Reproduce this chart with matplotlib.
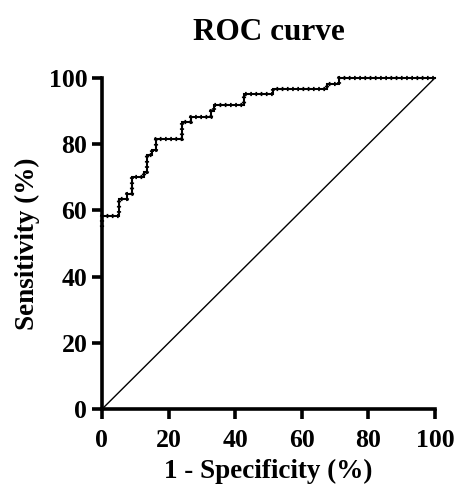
import numpy as np
import matplotlib
matplotlib.use("Agg")
import matplotlib.pyplot as plt

fpr = [0, 0, 5.1, 5.1, 7.6, 7.6, 8.9, 8.9, 12.7, 12.7, 13.4, 13.4, 14.9, 14.9,
       16.1, 16.1, 24.1, 24.1, 26.6, 26.6, 32.7, 32.7, 33.7, 33.7, 42.6, 42.6,
       51.4, 51.4, 67.7, 67.7, 71.3, 71.3, 100]
tpr = [55.0, 58.3, 58.3, 63.3, 63.3, 65.0, 65.0, 70.0, 70.0, 71.7, 71.7, 76.7,
       76.7, 78.3, 78.3, 81.7, 81.7, 86.7, 86.7, 88.3, 88.3, 90.0, 90.0, 91.7,
       91.7, 95.0, 95.0, 96.7, 96.7, 98.3, 98.3, 100, 100]
ticks = [0, 20, 40, 60, 80, 100]

plt.rcParams["font.family"] = ["Liberation Serif", "DejaVu Serif"]
plt.rcParams["font.weight"] = "bold"

fig = plt.figure(figsize=(4.55, 4.96), dpi=100)
ax = fig.add_axes([0.224, 0.175, 0.732, 0.668])

# reference line
ax.plot([0, 100], [0, 100], color="black", lw=1.0, zorder=2)
# curve + dotted point marks
ax.plot(fpr, tpr, color="black", lw=1.5, solid_joinstyle="miter",
        zorder=3, clip_on=False)
ax.plot(fpr, tpr, color="black", lw=3.0, dashes=(0.4, 0.85),
        zorder=3, clip_on=False)

ax.set_xlim(0, 100)
ax.set_ylim(0, 100)
ax.set_xticks(ticks)
ax.set_yticks(ticks)
for s in ["top", "right"]:
    ax.spines[s].set_visible(False)
for s in ["left", "bottom"]:
    ax.spines[s].set_linewidth(2.6)
ax.tick_params(width=2.6, length=7.5, labelsize=18.5)
ax.tick_params(axis="x", pad=7)
ax.tick_params(axis="y", pad=3)
ax.set_xlabel("1 - Specificity (%)", fontsize=19.5, fontweight="bold", labelpad=5)
ax.set_ylabel("Sensitivity (%)", fontsize=19.5, fontweight="bold", labelpad=6)
ax.set_title("ROC curve", fontsize=22.5, fontweight="bold", pad=27)

fig.savefig("out.png", dpi=100)
